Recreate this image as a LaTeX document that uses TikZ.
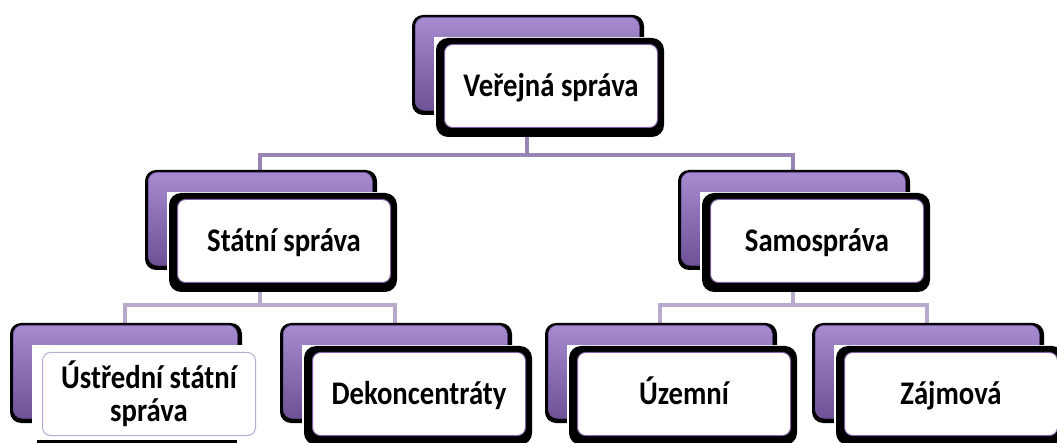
\documentclass[tikz,border=0pt]{standalone}
\usepackage{fontspec}
\setmainfont{Carlito}[FakeStretch=0.87]
\usetikzlibrary{backgrounds}
\definecolor{lavtop}{HTML}{A68BD0}
\definecolor{lavmid}{HTML}{8364AD}
\definecolor{lavbot}{HTML}{6E5196}
\definecolor{connA}{HTML}{9885B3}
\definecolor{connB}{HTML}{B7AACD}
\definecolor{wborder}{HTML}{7E63A0}
\definecolor{wborderlight}{HTML}{B9A9D3}
\tikzset{
  purplebox/.style={rounded corners=9pt, top color=lavtop, middle color=lavmid, bottom color=lavbot,
    draw=lavbot, line width=0.6pt, minimum width=224pt, minimum height=93pt, anchor=north west, inner sep=0pt},
  whitebox/.style={rounded corners=8pt, fill=white, draw=wborder, line width=1pt,
    minimum width=213pt, minimum height=83pt, anchor=north west, inner sep=0pt,
    text height=21.5pt, text depth=0pt,
    font=\bfseries\fontsize{33}{33}\selectfont, text=black},
  busline/.style={line width=4pt},
}
\newcommand\orgunit[4]{%
  \fill[black, rounded corners=11pt] (#2-3,#3-2) rectangle (#2+229,#3+98);
  \node[purplebox] (#1p) at (#2,#3) {};
  \fill[white] (#2+19,#3+20) rectangle (#2+249,#3+120);
  \fill[black, rounded corners=12pt] (#2+21,#3+21) rectangle (#2+249,#3+120);
  \node[whitebox] (#1) at (#2+29,#3+27) {#4};
}
\begin{document}
\begin{tikzpicture}[x=1pt,y=-1pt]
\useasboundingbox (0,0) rectangle (1057,443);
\clip (0,0) rectangle (1057,443);

\orgunit{vs}{415}{17}{Veřejná správa}
\orgunit{st}{148}{172}{Státní správa}
\orgunit{sm}{681}{172}{Samospráva}
% Ustredni statni sprava (no dark shadow)
\fill[black, rounded corners=11pt] (10,323) rectangle (242,423);
\node[purplebox] (usp) at (13,325) {};
\fill[white] (32,345) rectangle (262,443);
\fill[black] (37,440) rectangle (237,443);
\node[whitebox, draw=wborderlight, align=center, text height=, text depth=,
  font=\bfseries\fontsize{33}{33}\selectfont] (us) at (42,352) {Ústřední státní\\správa};
\orgunit{dk}{283}{325}{Dekoncentráty}
\orgunit{uz}{548}{325}{Územní}
\orgunit{za}{815}{325}{Zájmová}

\coordinate (busA) at (0,155);
\coordinate (busB) at (0,305);
\begin{scope}[on background layer]
  \draw[busline, connA] (vsp.south) -- (vsp.south |- busA);
  \draw[busline, connA] (stp.north) |- (smp.north |- busA) -- (smp.north);
  \draw[busline, connB] (stp.south) -- (stp.south |- busB);
  \draw[busline, connB] (usp.north) |- (dkp.north |- busB) -- (dkp.north);
  \draw[busline, connB] (smp.south) -- (smp.south |- busB);
  \draw[busline, connB] (uzp.north) |- (zap.north |- busB) -- (zap.north);
\end{scope}
\end{tikzpicture}
\end{document}
